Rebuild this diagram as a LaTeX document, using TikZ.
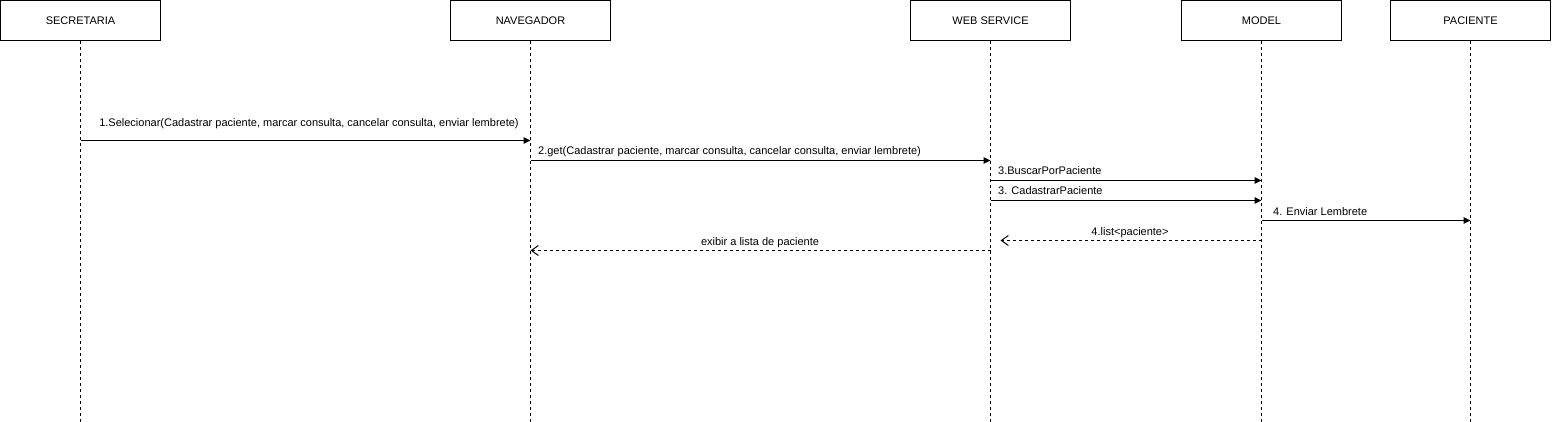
\documentclass[tikz,border=0pt]{standalone}
\usepackage{fontspec}
\setmainfont{Liberation Sans}
\usetikzlibrary{arrows.meta}
\begin{document}
\begin{tikzpicture}[x=1pt,y=-1pt,
  actor/.style={draw=black,line width=1pt,fill=white,minimum width=160pt,minimum height=40pt,inner sep=0pt,font=\fontsize{11}{13}\selectfont},
  life/.style={draw=black,line width=1pt,dash pattern=on 3pt off 3pt},
  msg/.style={draw=black,line width=1pt,-{Triangle[length=7pt,width=6.5pt]}},
  ret/.style={draw=black,line width=1pt,dash pattern=on 3pt off 3pt,-{Straight Barb[length=7pt,width=10pt,line width=1pt]}},
  lbl/.style={font=\fontsize{11}{13}\selectfont,inner sep=0pt,anchor=base}
]
\useasboundingbox (0,0) rectangle (1552,422);
\node[actor] (sec) at (80.5,20.5) {SECRETARIA};
\node[actor] (nav) at (530.5,20.5) {NAVEGADOR};
\node[actor] (web) at (990.5,20.5) {WEB SERVICE};
\node[actor] (mod) at (1261.5,20.5) {MODEL};
\node[actor] (pac) at (1470.5,20.5) {PACIENTE};
\coordinate (secE) at (80.5,422);
\coordinate (navE) at (530.5,422);
\coordinate (webE) at (990.5,422);
\coordinate (modE) at (1261.5,422);
\coordinate (pacE) at (1470.5,422);
\draw[life] (sec.south) -- (secE);
\draw[life] (nav.south) -- (navE);
\draw[life] (web.south) -- (webE);
\draw[life] (mod.south) -- (modE);
\draw[life] (pac.south) -- (pacE);
% message endpoints
\coordinate (m1a) at (80.5,140.5);  \coordinate (m1b) at (530.5,140.5);
\coordinate (m2a) at (530.5,160.5); \coordinate (m2b) at (990.5,160.5);
\coordinate (m3a) at (990.5,180.5); \coordinate (m3b) at (1261.5,180.5);
\coordinate (m4a) at (990.5,200.5); \coordinate (m4b) at (1261.5,200.5);
\coordinate (m5a) at (1261.5,220.5); \coordinate (m5b) at (1470.5,220.5);
\coordinate (m6a) at (1261.5,240.5); \coordinate (m6b) at (1000.5,240.5);
\coordinate (m7a) at (990.5,250.5); \coordinate (m7b) at (530.5,250.5);
\draw[msg] (m1a) -- (m1b);
\draw[msg] (m2a) -- (m2b);
\draw[msg] (m3a) -- (m3b);
\draw[msg] (m4a) -- (m4b);
\draw[msg] (m5a) -- (m5b);
\draw[ret] (m6a) -- (m6b);
\draw[ret] (m7a) -- (m7b);
\node[lbl] (l1) at (309,127) {1.Selecionar(Cadastrar paciente, marcar consulta, cancelar consulta, enviar lembrete)};
\node[lbl,anchor=base west] (l2) at (538,155) {2.get(Cadastrar paciente, marcar consulta, cancelar consulta, enviar lembrete)};
\node[lbl,anchor=base west] (l3) at (998,175) {3.BuscarPorPaciente};
\node[lbl,anchor=base west] (l4) at (998,195) {3. CadastrarPaciente};
\node[lbl,anchor=base west] (l5) at (1273,215) {4. Enviar Lembrete};
\node[lbl] (l6) at (1130,235) {4.list<paciente>};
\node[lbl] (l7) at (760,245) {exibir a lista de paciente};
\end{tikzpicture}
\end{document}
